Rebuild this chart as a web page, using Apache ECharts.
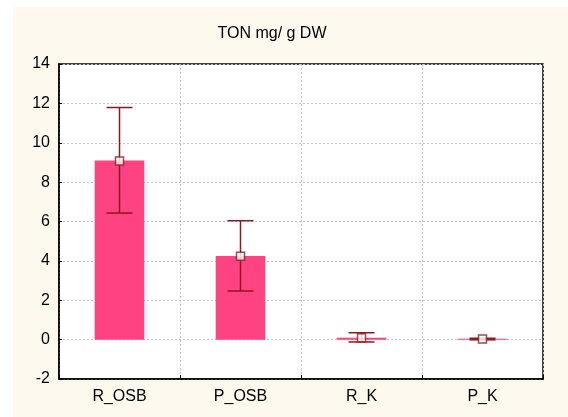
<!DOCTYPE html>
<html>
<head>
<meta charset="utf-8">
<script src="https://cdn.jsdelivr.net/npm/echarts@6/dist/echarts.min.js"></script>
<style>
  html, body { margin: 0; padding: 0; background: #ffffff; }
  #chart { width: 568px; height: 417px; }
</style>
</head>
<body>
<div id="chart"></div>
<script>
// Total organic nitrogen per sample group: mean with error range
const categories = ['R_OSB', 'P_OSB', 'R_K', 'P_K'];
const barValues = [9.1, 4.25, 0.1, 0.05];
const meanValues = [9.07, 4.23, 0.1, 0.03];
const errLow = [6.43, 2.47, -0.12, -0.01];
const errHigh = [11.79, 6.04, 0.35, 0.07];
const yTicks = [-2, 0, 2, 4, 6, 8, 10, 12, 14];

const chart = echarts.init(document.getElementById('chart'), null, { renderer: 'canvas' });

const errColor = '#8b1a1a';
const font = 'Liberation Sans, Arial, sans-serif';
const gridLine = { show: true, lineStyle: { color: '#c4c4c4', type: [2, 2], width: 1 } };
const errData = categories.map((c, i) => [i, errLow[i], errHigh[i]]);

chart.setOption({
  backgroundColor: '#ffffff',
  animation: false,
  graphic: [{
    type: 'rect',
    z: -10,
    shape: { x: 13, y: 7, width: 555, height: 410 },
    style: { fill: '#fdf9ef' }
  }],
  title: {
    text: 'TON mg/ g DW',
    left: 267,
    top: 21,
    textAlign: 'center',
    textStyle: { fontFamily: font, fontSize: 16, fontWeight: 'normal', color: '#000' }
  },
  grid: {
    left: 59, right: 25, top: 64, bottom: 38,
    show: true, backgroundColor: '#ffffff', borderColor: '#000', borderWidth: 1.5
  },
  xAxis: {
    type: 'category',
    data: categories,
    boundaryGap: true,
    axisLine: { onZero: false, lineStyle: { color: '#000', width: 1.5 } },
    axisTick: { show: true, inside: true, length: 4, lineStyle: { color: '#000' } },
    axisLabel: { fontFamily: font, fontSize: 16, color: '#000', margin: 10 },
    splitLine: gridLine
  },
  yAxis: {
    type: 'value',
    min: yTicks[0], max: yTicks[yTicks.length - 1], interval: 2,
    axisLine: { show: true, onZero: false, lineStyle: { color: '#000', width: 1.5 } },
    axisTick: { show: true, inside: true, length: 3, lineStyle: { color: '#000' } },
    axisLabel: { fontFamily: font, fontSize: 16, color: '#000', margin: 9 },
    splitLine: gridLine
  },
  series: [
    {
      type: 'bar',
      data: barValues,
      barWidth: '41%',
      itemStyle: { color: '#ff4282' },
      z: 2
    },
    {
      type: 'custom',
      data: errData,
      z: 3,
      renderItem: function (params, api) {
        const x = api.value(0);
        const lo = api.coord([x, api.value(1)]);
        const hi = api.coord([x, api.value(2)]);
        const half = 13;
        const style = { stroke: errColor, lineWidth: 1.5 };
        return {
          type: 'group',
          children: [
            { type: 'line', shape: { x1: lo[0], y1: lo[1], x2: hi[0], y2: hi[1] }, style: style },
            { type: 'line', shape: { x1: hi[0] - half, y1: hi[1], x2: hi[0] + half, y2: hi[1] }, style: style },
            { type: 'line', shape: { x1: lo[0] - half, y1: lo[1], x2: lo[0] + half, y2: lo[1] }, style: style }
          ]
        };
      }
    },
    {
      type: 'scatter',
      data: meanValues,
      symbol: 'rect',
      symbolSize: 8,
      itemStyle: { color: '#ffffff', borderColor: errColor, borderWidth: 1.5 },
      z: 4
    }
  ]
});
</script>
</body>
</html>
